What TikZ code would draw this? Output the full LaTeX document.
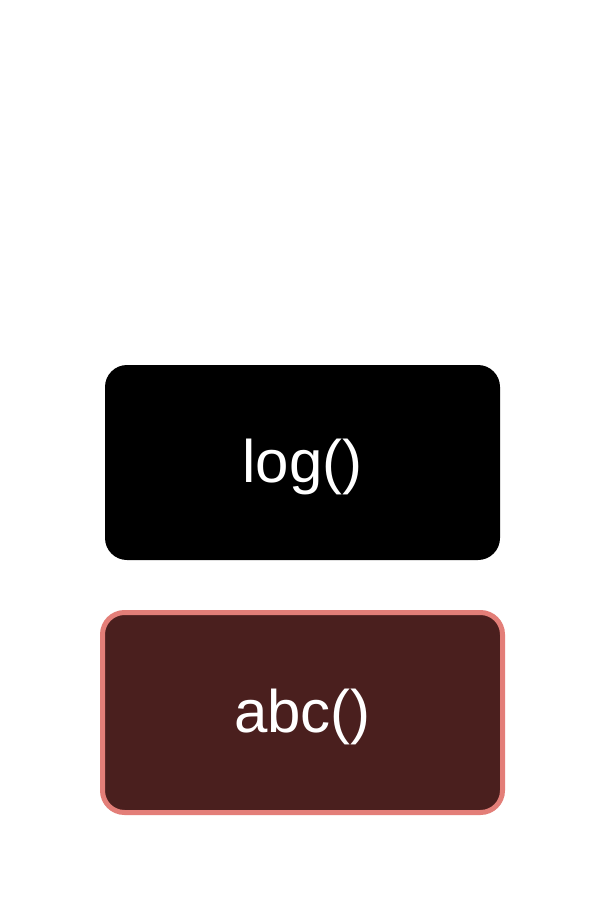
\documentclass[tikz,border=0pt]{standalone}
\usepackage{fontspec}
\setmainfont{Liberation Sans}
\usepackage{xcolor}
\definecolor{callblack}{RGB}{0, 0, 0}
\definecolor{callbrown}{RGB}{74, 31, 30}
\definecolor{callsalmon}{RGB}{227, 126, 120}
\usepackage{tikz}

\begin{document}
\begin{tikzpicture}[x=1pt,y=1pt]
    \useasboundingbox[fill=white] (0,0) rectangle (615,-920);
    \node[
      fill=callblack,
      rounded corners=22pt,
      minimum width=395pt,
      minimum height=195pt,
      inner sep=0pt,
      text height=52pt,
      text depth=13pt,
      text=white,
      font=\fontsize{60}{66}\selectfont
    ] (logcall) at (302.5,-462.5) {log()};
    \node[
      draw=callsalmon,
      line width=5pt,
      fill=callbrown,
      rounded corners=22pt,
      minimum width=400pt,
      minimum height=200pt,
      inner sep=0pt,
      text height=52pt,
      text depth=13pt,
      text=white,
      font=\fontsize{60}{66}\selectfont
    ] (abccall) at (302.5,-712.5) {abc()};
  \end{tikzpicture}
\end{document}
